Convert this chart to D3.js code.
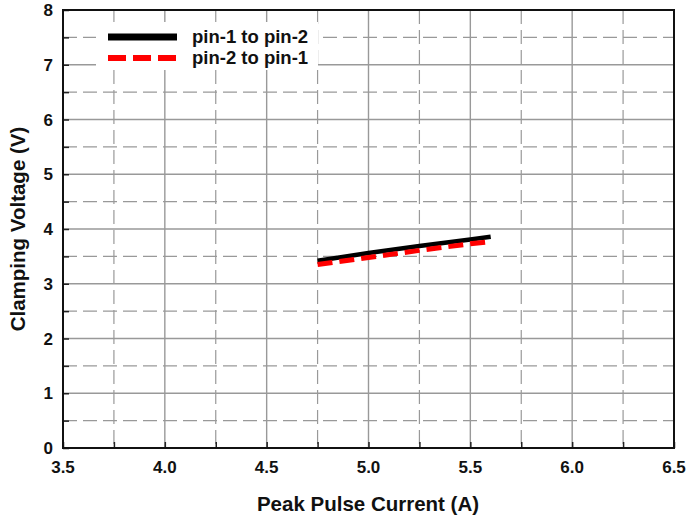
<!DOCTYPE html>
<meta charset="utf-8">
<style>
  body { margin: 0; background: #fff; }
  text { font-family: "Liberation Sans", Arial, sans-serif; font-weight: bold; fill: #111; }
</style>
<svg width="688" height="522"></svg>
<script src="https://d3js.org/d3.v7.min.js"></script>
<script>

    // data
    var currentPin12 = [4.75, 5.0, 5.25, 5.5, 5.6];
    var voltagePin12 = [3.42, 3.56, 3.69, 3.81, 3.86];
    var currentPin21 = [4.75, 5.0, 5.25, 5.5, 5.6];
    var voltagePin21 = [3.35, 3.48, 3.61, 3.73, 3.77];
    var seriesNames = ["pin-1 to pin-2", "pin-2 to pin-1"];
    var xTicks = [3.5, 4.0, 4.5, 5.0, 5.5, 6.0, 6.5];
    var yTicks = [0, 1, 2, 3, 4, 5, 6, 7, 8];

    var svg = d3.select("svg"),
        pL = 63, pR = 674, pT = 10, pB = 448;

    var x = d3.scaleLinear().domain([3.5, 6.5]).range([pL, pR]);
    var y = d3.scaleLinear().domain([0, 8]).range([pB, pT]);

    var grid = svg.append("g");
    // minor dashed grid
    d3.range(3.75, 6.5, 0.5).forEach(function(v) {
        grid.append("line").attr("x1", x(v)).attr("x2", x(v)).attr("y1", pT).attr("y2", pB)
            .attr("stroke", "#999").attr("stroke-width", 1.2).attr("stroke-dasharray", "14,6");
    });
    d3.range(0.5, 8, 1).forEach(function(v) {
        grid.append("line").attr("x1", pL).attr("x2", pR).attr("y1", y(v)).attr("y2", y(v))
            .attr("stroke", "#999").attr("stroke-width", 1.2).attr("stroke-dasharray", "14,6");
    });
    // major solid grid
    xTicks.slice(1, -1).forEach(function(v) {
        grid.append("line").attr("x1", x(v)).attr("x2", x(v)).attr("y1", pT).attr("y2", pB)
            .attr("stroke", "#999").attr("stroke-width", 1.4);
    });
    yTicks.slice(1, -1).forEach(function(v) {
        grid.append("line").attr("x1", pL).attr("x2", pR).attr("y1", y(v)).attr("y2", y(v))
            .attr("stroke", "#999").attr("stroke-width", 1.4);
    });

    // axes with inner ticks
    svg.append("g").attr("transform", "translate(0," + pB + ")")
        .call(d3.axisBottom(x).tickValues(d3.range(3.5, 6.51, 0.25)).tickSize(-6).tickFormat(""));
    svg.append("g").attr("transform", "translate(" + pL + ",0)")
        .call(d3.axisLeft(y).tickValues(d3.range(0, 8.01, 0.5)).tickSize(-6).tickFormat(""));
    svg.selectAll(".domain").remove();
    svg.selectAll(".tick line").attr("stroke", "#222").attr("stroke-width", 1.5);

    svg.append("rect").attr("x", pL).attr("y", pT).attr("width", pR - pL).attr("height", pB - pT)
        .attr("fill", "none").attr("stroke", "#111").attr("stroke-width", 2);

    // tick labels
    svg.append("g").selectAll("text").data(xTicks).enter().append("text")
        .attr("x", function(d) { return x(d); }).attr("y", 473)
        .attr("text-anchor", "middle").style("font-size", "17px")
        .text(function(d) { return d.toFixed(1); });
    svg.append("g").selectAll("text").data(yTicks).enter().append("text")
        .attr("x", 53).attr("y", function(d) { return y(d) + 6; })
        .attr("text-anchor", "end").style("font-size", "17px")
        .text(function(d) { return d; });

    svg.append("text").attr("x", 368).attr("y", 511).attr("text-anchor", "middle")
        .style("font-size", "20.5px").text("Peak Pulse Current (A)");
    svg.append("text").attr("transform", "translate(25," + ((pT + pB) / 2) + ") rotate(-90)")
        .attr("text-anchor", "middle").style("font-size", "20.5px").text("Clamping Voltage (V)");

    // data lines
    var line = d3.line().x(function(d) { return x(d[0]); }).y(function(d) { return y(d[1]); });
    svg.append("path").datum(d3.zip(currentPin12, voltagePin12)).attr("d", line)
        .attr("fill", "none").attr("stroke", "#000").attr("stroke-width", 4.5);
    svg.append("path").datum(d3.zip(currentPin21, voltagePin21)).attr("d", line)
        .attr("fill", "none").attr("stroke", "#f00").attr("stroke-width", 5)
        .attr("stroke-dasharray", "15,7");

    // legend
    var lg = svg.append("g");
    lg.append("rect").attr("x", 96).attr("y", 22).attr("width", 222).attr("height", 48).attr("fill", "#fff");
    lg.append("line").attr("x1", 108).attr("x2", 177).attr("y1", 37).attr("y2", 37)
        .attr("stroke", "#000").attr("stroke-width", 7);
    lg.append("line").attr("x1", 108).attr("x2", 177).attr("y1", 58).attr("y2", 58)
        .attr("stroke", "#f00").attr("stroke-width", 6).attr("stroke-dasharray", "18,7");
    lg.selectAll("text").data(seriesNames).enter().append("text")
        .attr("x", 192).attr("y", function(d, i) { return 43 + i * 21; })
        .style("font-size", "18.5px").text(function(d) { return d; });
</script>
